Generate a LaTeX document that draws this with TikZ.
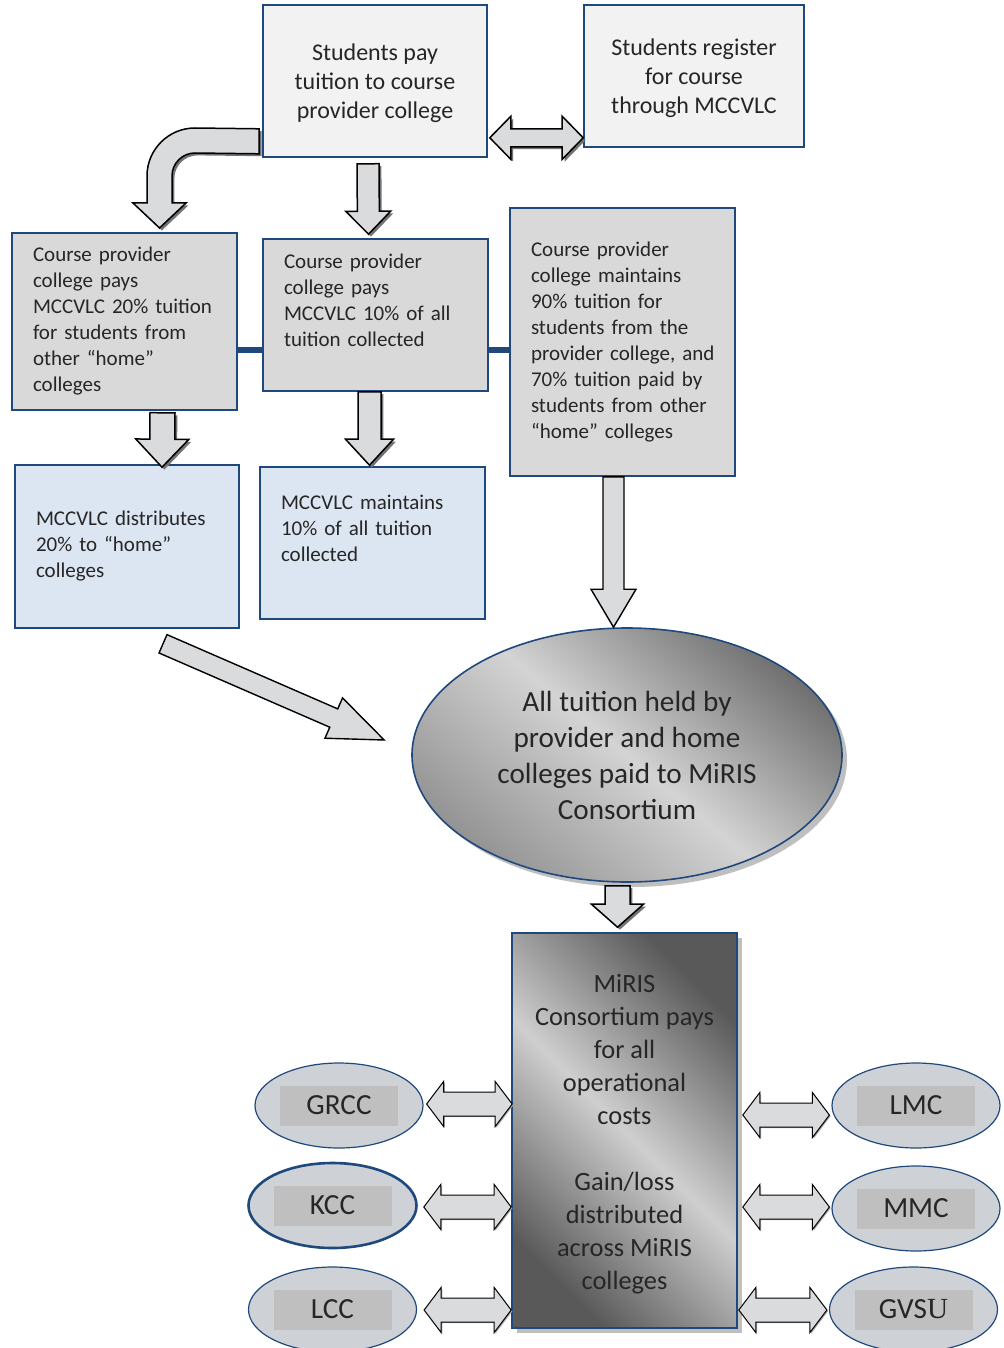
\documentclass[tikz,border=0pt]{standalone}
\usepackage{fontspec}
\setmainfont{Carlito}
\newfontfamily\serifletter{Liberation Serif}
\usetikzlibrary{calc,shapes.geometric,shadows,positioning}

\definecolor{frameblue}{RGB}{31,73,125}
\definecolor{paper}{RGB}{242,242,242}
\definecolor{boxgray}{RGB}{217,217,217}
\definecolor{paleblue}{RGB}{220,230,242}
\definecolor{arrowgray}{RGB}{218,219,221}
\definecolor{ovalgray}{RGB}{206,209,214}
\definecolor{labelgray}{RGB}{191,191,191}
\definecolor{ink}{RGB}{38,38,38}

\newcommand{\stack}[1]{\begin{tabular}{@{}l@{}}#1\end{tabular}}
\newcommand{\collegelabel}[1]{{\setlength{\fboxsep}{0pt}%
  \colorbox{labelgray}{\parbox[c][20pt][c]{59pt}{\centering #1}}}}

% block arrows: start, end, shaft half width, head half width, head length
\newcommand{\fatarrow}[6][blockarrow]{%
  \draw[#1] let \p1=#2, \p2=#3,
    \n1={atan2(\y2-\y1,\x2-\x1)}, \n2={veclen(\x2-\x1,\y2-\y1)} in
    {[shift={(\p1)},rotate=\n1]
     (0pt,#4) -- (\n2-#6,#4) -- (\n2-#6,#5) -- (\n2,0pt)
     -- (\n2-#6,-#5) -- (\n2-#6,-#4) -- (0pt,-#4) -- cycle};}
\newcommand{\dblarrow}[6][blockarrow]{%
  \draw[#1] let \p1=#2, \p2=#3,
    \n1={atan2(\y2-\y1,\x2-\x1)}, \n2={veclen(\x2-\x1,\y2-\y1)} in
    {[shift={(\p1)},rotate=\n1]
     (0pt,0pt) -- (#6,#5) -- (#6,#4) -- (\n2-#6,#4) -- (\n2-#6,#5) -- (\n2,0pt)
     -- (\n2-#6,-#5) -- (\n2-#6,-#4) -- (#6,-#4) -- (#6,-#5) -- cycle};}

\begin{document}
\begin{tikzpicture}[x=0.5pt,y=-0.5pt,
    plainbox/.style={draw=frameblue,line width=0.8pt,fill=paper,align=center,
                     font=\fontsize{12}{14.5}\selectfont},
    graybox/.style={draw=frameblue,line width=0.8pt,fill=boxgray,text width=91.5pt,
                    inner xsep=10.5pt,align=left,minimum width=112.5pt,
                    font=\fontsize{10.5}{13}\selectfont},
    bluebox/.style={graybox,fill=paleblue},
    metal/.style={top color=black!65,bottom color=black!65,middle color=black!19,
                  shading angle=-45},
    softmetal/.style={top color=black!56,bottom color=black!42,middle color=black!17,
                      shading angle=-40},
    college/.style={ellipse,draw=frameblue,line width=0.6pt,fill=ovalgray,inner sep=0pt,
                    minimum width=84pt,minimum height=42.5pt,
                    font=\fontsize{14.6}{17}\selectfont},
    blockarrow/.style={draw=black,line width=0.75pt,fill=arrowgray,line join=miter,
                       drop shadow={shadow xshift=1.2pt,shadow yshift=-1.2pt,
                                    fill=black!55,opacity=1}},
    flatarrow/.style={draw=black,line width=0.7pt,fill=arrowgray,line join=miter},
    sidearrow/.style={draw=black,line width=0.5pt,fill=arrowgray,line join=miter,
                      drop shadow={shadow xshift=0.6pt,shadow yshift=-0.6pt,
                                   fill=black!35,opacity=1}},
    link/.style={draw=frameblue,line width=3pt}]
  \tikzstyle{every node}=[text=ink]
  \useasboundingbox (0,0) rectangle (1004,1348);
  \clip (0,0) rectangle (1004,1348);

  \node[plainbox,minimum width=112pt,minimum height=76pt,text depth=-2pt] (tuition) at (375,81)
    {Students pay\\tuition to course\\provider college};
  \node[plainbox,minimum width=110pt,minimum height=71pt,text depth=-2pt] (register) at (694,76)
    {Students register\\for course\\through MCCVLC};

  \node[graybox,minimum height=88.5pt] (paytwenty) at (124.5,321.5)
    {\stack{Course provider\\college pays\\MCCVLC 20\% tuition\\for students from\\other “home”\\colleges}};
  \node[graybox,minimum height=76pt] (payten) at (375.5,315)
    {\stack{Course provider\\college pays\\MCCVLC 10\% of all\\tuition collected\\\mbox{}}};
  \node[graybox,minimum height=134pt] (maintain) at (622.5,342)
    {\stack{Course provider\\college maintains\\90\% tuition for\\students from the\\provider college, and\\70\% tuition paid by\\students from other\\“home” colleges}};
  \node[bluebox,text width=91pt,minimum width=112pt,minimum height=81.5pt] (distribute) at (127,546.5)
    {\stack{MCCVLC distributes\\20\% to “home”\\colleges}};
  \node[bluebox,minimum height=76pt] (keep) at (372.5,543)
    {\stack{MCCVLC maintains\\10\% of all tuition\\collected\\\mbox{}}};

  \node[ellipse,draw=frameblue,line width=0.8pt,softmetal,minimum width=215pt,minimum height=127pt,
        inner sep=0pt,align=center,font=\fontsize{14.6}{18}\selectfont,
        drop shadow={shadow xshift=2.5pt,shadow yshift=-2.5pt,fill=black!25,opacity=1}]
    (pool) at (627,755) {All tuition held by\\provider and home\\colleges paid to MiRIS\\Consortium};
  \node[draw=frameblue,line width=0.8pt,metal,minimum width=112.5pt,minimum height=197.5pt,
        align=center,font=\fontsize{13.2}{16.5}\selectfont,
        drop shadow={shadow xshift=2.5pt,shadow yshift=-2.5pt,fill=black!25,opacity=1}]
    (consortium) at (624.5,1130.5)
    {\\[-4pt]MiRIS\\Consortium pays\\for all\\operational\\costs\\[16.5pt]Gain/loss\\distributed\\across MiRIS\\colleges};

  \node[college] (grcc) at (339,1105.5) {\collegelabel{GRCC}};
  \node[college,line width=1.3pt] (kcc) at (332.5,1205.5) {\collegelabel{KCC}};
  \node[college] (lcc) at (332.5,1309.5) {\collegelabel{LCC}};
  \node[college] (lmc) at (916,1105.5) {\collegelabel{LMC}};
  \node[college] (mmc) at (916,1208.5) {\collegelabel{MMC}};
  \node[college] (gvsu) at (913.5,1309.5) {\collegelabel{GVS{\serifletter U}}};

  \draw[link] (paytwenty.east |- 0,350) -- (payten.west |- 0,350);
  \draw[link] (payten.east |- 0,350) -- (maintain.west |- 0,350);

  \dblarrow{($(tuition.south east)+(2,-20)$)}{($(register.south west)+(0,-10)$)}{4.5pt}{10.75pt}{10.5pt}
  \draw[blockarrow] ($(tuition.south west)+(-3,-29)$) -- (195,128)
    arc[start angle=-90,end angle=-180,radius=48] -- (147,203) -- (133,203)
    -- (159.5,228) -- (186,203) -- (172,203) -- (172,176)
    arc[start angle=-180,end angle=-90,radius=23] -- ($(tuition.south west)+(-3,-4)$) -- cycle;
  \fatarrow{($(tuition.south)+(-7,6)$)}{($(payten.north)+(-7,-4)$)}{5.5pt}{11.25pt}{11.5pt}
  \fatarrow{($(paytwenty.south)+(38,2)$)}{($(distribute.north)+(35,3)$)}{6.25pt}{13.25pt}{14pt}
  \fatarrow{($(payten.south)+(-6,0)$)}{($(keep.north)+(-3,-1)$)}{5.75pt}{12pt}{13pt}
  \fatarrow[flatarrow]{($(maintain.south)+(-9,0)$)}{($(pool.north)+(-13.5,0)$)}{5.25pt}{11.25pt}{19pt}
  \fatarrow[flatarrow]{($(distribute.south)+(36,15)$)}{($(pool.west)+(-27,-15)$)}{5pt}{11pt}{27.5pt}
  \fatarrow{($(pool.south)+(-9.5,3)$)}{($(consortium.north)+(-7,-5)$)}{6.25pt}{13pt}{11.5pt}

  \dblarrow[sidearrow]{($(grcc.east)+(3,-1.5)$)}{($(grcc.east -| consortium.west)+(1,-1.5)$)}{6pt}{11.25pt}{8.5pt}
  \dblarrow[sidearrow]{($(kcc.east)+(6,1.5)$)}{($(kcc.east -| consortium.west)+(0,1.5)$)}{6pt}{11.25pt}{8.5pt}
  \dblarrow[sidearrow]{($(lcc.east)+(7,0.5)$)}{($(lcc.east -| consortium.west)+(0,0.5)$)}{6pt}{11.25pt}{8.5pt}
  \dblarrow[sidearrow]{($(lmc.west -| consortium.east)+(5,9.5)$)}{($(lmc.west)+(-2,9.5)$)}{6pt}{11.25pt}{8.5pt}
  \dblarrow[sidearrow]{($(mmc.west -| consortium.east)+(5,-1.5)$)}{($(mmc.west)+(-2,-1.5)$)}{6pt}{11.25pt}{8.5pt}
  \dblarrow[sidearrow]{($(gvsu.west -| consortium.east)+(1,0.5)$)}{($(gvsu.west)+(-2,0.5)$)}{6pt}{11.25pt}{8.5pt}
\end{tikzpicture}
\end{document}
